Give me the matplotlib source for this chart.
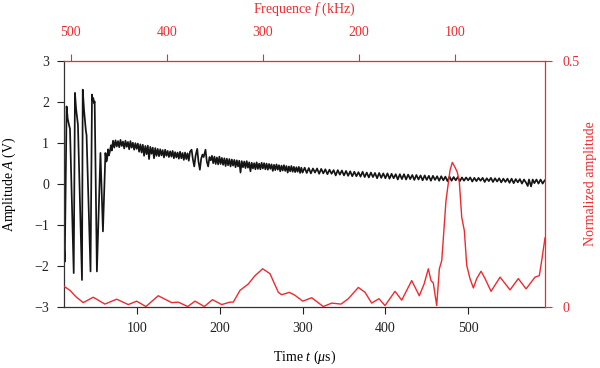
import matplotlib
matplotlib.use("Agg")
import matplotlib.pyplot as plt

plt.rcParams['font.family'] = ['Liberation Serif', 'DejaVu Serif']
plt.rcParams['mathtext.fontset'] = 'custom'
plt.rcParams['mathtext.rm'] = 'Liberation Serif'
plt.rcParams['mathtext.it'] = 'Liberation Serif:italic'

RED = '#ee2a2f'
BLACK = '#151515'

# ---- time signal (time in us, amplitude in V) ----
sig_t = [12.0, 12.7, 14.9, 16.2, 18.1, 19.0, 23.5,
         25.0, 26.3, 27.7, 28.6, 33.5,
         34.4, 36.0, 38.2, 39.0, 43.8,
         45.6, 46.3, 47.2, 48.0, 48.8, 51.5,
         55.8, 58.8, 61.8, 63.0, 63.9, 65.0, 66.0, 67.2, 68.5, 69.5,
         71.0, 72.5, 74.0, 75.5, 77.0, 78.5, 80.0, 81.5, 83.0, 84.5, 86.0, 87.5, 89.0, 90.5,
         92.0, 93.5, 95.0, 96.5, 98.0, 99.5,
         101.0, 102.5, 104.0, 105.5, 107.0, 108.5, 110.0, 111.5, 113.0, 114.5, 116.0, 117.5,
         119.0, 120.5, 122.0,
         123.5, 125.0, 126.5, 128.0, 129.5, 131.0, 132.5, 134.0, 135.5, 137.0, 138.5, 140.0,
         141.5, 143.0, 144.5, 146.0, 147.5, 149.0, 150.5, 152.0, 153.5, 155.0, 156.5, 158.0,
         159.5, 161.0, 162.5, 164.0,
         165.9, 167.5, 169.1, 170.8, 172.7, 174.2, 175.9, 177.5, 179.0, 180.5, 182.7, 184.3,
         185.9, 187.5, 189.0,
         190.5, 192.0, 193.5, 195.0, 196.5, 198.0, 199.5, 201.0, 202.5, 204.0, 205.5, 207.0,
         208.5, 210.0, 211.5, 213.0, 214.5, 216.0, 217.5, 219.0, 220.5, 222.0, 223.5, 225.0,
         226.5, 228.0, 229.5, 231.0, 232.5, 234.0, 235.5, 237.0, 238.5, 240.0, 241.5, 243.0,
         244.5, 246.0, 247.5, 249.0,
         250.5, 252.0, 253.5, 255.0, 256.5, 258.0, 259.5, 261.0, 262.5, 264.0, 265.5, 267.0,
         268.5, 270.0, 271.5, 273.0, 274.5, 276.0, 277.5, 279.0, 280.5, 282.0, 283.5, 285.0,
         286.5, 288.0, 289.5, 291.0, 292.5, 294.0, 295.5, 297.0, 298.5,
         300.0, 302.5, 305.0, 307.5, 310.0, 312.5, 315.0, 317.5, 320.0, 322.5, 325.0, 327.5,
         330.0, 332.5, 335.0, 337.5, 340.0, 342.5, 345.0, 347.5, 350.0, 352.5, 355.0, 357.5,
         360.0, 362.5, 365.0, 367.5, 370.0, 372.5, 375.0, 377.5, 380.0, 382.5, 385.0, 387.5,
         390.0, 392.5, 395.0, 397.5, 400.0, 402.5, 405.0, 407.5, 410.0, 412.5, 415.0, 417.5,
         420.0, 422.5, 425.0, 427.5, 430.0, 432.5, 435.0, 437.5, 440.0, 442.5, 445.0, 447.5,
         450.0, 452.5, 455.0, 457.5, 460.0, 462.5, 465.0, 467.5, 470.0, 472.5, 475.0, 477.5,
         480.0, 482.5, 485.0, 487.5, 490.0, 492.5, 495.0, 497.5, 500.0, 502.5, 505.0, 507.5,
         510.0, 512.5, 515.0, 517.5, 520.0, 522.5, 525.0, 527.5, 530.0, 532.5, 535.0, 537.5,
         540.0, 542.5, 545.0, 547.5, 550.0, 552.5, 555.0, 557.5, 560.0, 562.5, 565.0, 567.5,
         570.0, 572.0, 573.5, 576.0, 578.0, 580.0, 582.5, 585.0, 587.5, 590.0, 592.5]
sig_a = [-1.6, -1.9, 1.90, 1.6, 1.42, 1.35, -2.18,
         2.23, 1.85, 1.6, 1.45, -2.35,
         2.31, 1.8, 1.3, 1.2, -2.14,
         2.19, 2.05, 2.1, 1.98, 2.02, -2.14,
         0.76, -1.16, 0.76, 0.55, 0.62, 0.85, 0.70, 0.80, 0.95, 0.82,
         1.06, 0.89, 1.07, 0.92, 1.05, 0.90, 1.08, 0.93, 1.04, 0.87, 1.06, 0.91, 1.03, 0.85,
         1.05, 0.89, 1.01, 0.84, 1.00, 0.86,
         0.99, 0.79, 0.97, 0.77, 0.96, 0.69, 0.93, 0.73, 0.94, 0.61, 0.91, 0.74,
         0.89, 0.63, 0.88,
         0.69, 0.86, 0.68, 0.85, 0.70, 0.83, 0.65, 0.84, 0.69, 0.81, 0.66, 0.80,
         0.67, 0.81, 0.63, 0.78, 0.65, 0.77, 0.62, 0.79, 0.63, 0.76, 0.59, 0.77,
         0.61, 0.75, 0.57, 0.79,
         0.84, 0.60, 0.43, 0.70, 0.86, 0.55, 0.35, 0.62, 0.72, 0.66, 0.84, 0.55,
         0.43, 0.66, 0.58,
         0.69, 0.51, 0.67, 0.49, 0.65, 0.48, 0.67, 0.49, 0.64, 0.47, 0.63, 0.44,
         0.62, 0.46, 0.61, 0.43, 0.60, 0.45, 0.59, 0.41, 0.58, 0.43, 0.57, 0.28,
         0.56, 0.41, 0.55, 0.39, 0.56, 0.40, 0.53, 0.31, 0.52, 0.38, 0.51, 0.36,
         0.53, 0.37, 0.50, 0.36,
         0.52, 0.38, 0.51, 0.36, 0.50, 0.35, 0.49, 0.37, 0.48, 0.32, 0.47, 0.34,
         0.48, 0.35, 0.46, 0.31, 0.45, 0.33, 0.46, 0.32, 0.44, 0.28, 0.43, 0.31,
         0.44, 0.30, 0.42, 0.29, 0.41, 0.30, 0.42, 0.27, 0.40,
         0.28, 0.40, 0.27, 0.39, 0.26, 0.38, 0.28, 0.38, 0.25, 0.37, 0.26, 0.36,
         0.24, 0.35, 0.25, 0.34, 0.21, 0.34, 0.23, 0.33, 0.21, 0.32, 0.20, 0.31,
         0.19, 0.30, 0.19, 0.29, 0.18, 0.30, 0.17, 0.28, 0.16, 0.28, 0.17, 0.27,
         0.14, 0.27, 0.15, 0.26, 0.14, 0.26, 0.13, 0.25, 0.14, 0.24, 0.11, 0.24,
         0.12, 0.24, 0.11, 0.23, 0.12, 0.22, 0.10, 0.22, 0.11, 0.21, 0.09, 0.21,
         0.10, 0.20, 0.08, 0.20, 0.10, 0.19, 0.08, 0.19, 0.09, 0.18, 0.07, 0.18,
         0.08, 0.17, 0.09, 0.17, 0.07, 0.16, 0.08, 0.16, 0.09, 0.16, 0.06, 0.15,
         0.07, 0.15, 0.08, 0.15, 0.05, 0.14, 0.07, 0.15, 0.05, 0.14, 0.06, 0.14,
         0.04, 0.13, 0.05, 0.13, 0.03, 0.13, 0.02, 0.12, 0.04, 0.12, 0.01, 0.11,
         0.03, -0.05, 0.11, -0.06, 0.11, 0.02, 0.11, 0.01, 0.11, 0.01, 0.09]

# ---- spectrum (frequency in kHz, normalized amplitude) ----
spec_f = [506.7, 500.7, 494.5, 486.9, 476.5, 464.3, 452.1, 440.0, 431.3, 421.6,
          408.8, 394.8, 387.9, 378.1, 370.5, 360.8, 352.3, 342.7, 334.1, 330.6,
          323.6, 315.0, 308.0, 300.0, 292.4, 283.7, 280.2, 272.3, 266.4, 258.3,
          249.0, 236.9, 228.1, 218.4, 210.8, 200.4, 193.4, 186.5, 178.9, 172.6,
          162.2, 155.2, 144.8, 136.9, 131.9, 127.5, 124.7, 122.3, 118.8, 116.0,
          113.5, 109.1, 104.9, 102.5, 99.7, 97.3, 95.2, 92.7, 90.0, 87.5,
          84.1, 80.6, 77.1, 72.6, 68.4, 62.2, 52.8, 42.4, 33.8, 25.7,
          16.4, 11.9, 9.4, 6.0]
spec_a = [0.041, 0.033, 0.020, 0.008, 0.019, 0.005, 0.015, 0.004, 0.011, 0.000,
          0.022, 0.008, 0.009, 0.000, 0.011, 0.000, 0.014, 0.004, 0.009, 0.009,
          0.033, 0.046, 0.063, 0.077, 0.067, 0.029, 0.024, 0.029, 0.023, 0.011,
          0.018, 0.000, 0.007, 0.005, 0.016, 0.039, 0.029, 0.007, 0.016, 0.002,
          0.031, 0.013, 0.053, 0.022, 0.046, 0.077, 0.053, 0.048, 0.002, 0.077,
          0.094, 0.216, 0.278, 0.294, 0.284, 0.274, 0.254, 0.182, 0.155, 0.084,
          0.057, 0.038, 0.057, 0.072, 0.057, 0.031, 0.060, 0.034, 0.057, 0.036,
          0.060, 0.063, 0.094, 0.140]

time_ticks = [100, 200, 300, 400, 500]
amp_ticks = [-3, -2, -1, 0, 1, 2, 3]
freq_ticks = [500, 400, 300, 200, 100]
norm_ticks = [0, 0.5]

fig = plt.figure(figsize=(6.0, 3.68), dpi=100)
ax = fig.add_axes([0.107, 0.167, 0.801, 0.666])
ax.plot(sig_t, sig_a, color=BLACK, lw=1.25)
ax.set_xlim(12, 592.6)
ax.set_ylim(-3, 3)
ax.set_xticks(time_ticks)
ax.set_yticks(amp_ticks)
ax.tick_params(direction='out', length=5, width=0.8, labelsize=10, pad=6, colors='#222222')
for s in ['top', 'right']:
    ax.spines[s].set_visible(False)
for s in ['left', 'bottom']:
    ax.spines[s].set_color('#333333')
    ax.spines[s].set_linewidth(0.9)
ax.set_xlabel(r'Time $t$ ($\mu$s)', fontsize=10)
ax.set_ylabel(r'Amplitude $A$ (V)', fontsize=10)
ax.xaxis.set_label_coords(0.5, -0.172)
ax.yaxis.set_label_coords(-0.097, 0.5)

ax2 = ax.twinx()
ax2.set_ylim(0, 0.5)
ax2.set_yticks(norm_ticks)
ax2.set_yticklabels(['0', '0.5'])
for s in ['top', 'left', 'bottom']:
    ax2.spines[s].set_visible(False)
ax2.spines['right'].set_color(RED)
ax2.spines['right'].set_linewidth(0.9)
ax2.tick_params(axis='y', direction='out', length=5, width=0.8, labelsize=10, pad=8, colors=RED)
ax2.set_ylabel('Normalized amplitude', fontsize=10, color=RED)
ax2.yaxis.set_label_coords(1.082, 0.5)

ax3 = ax2.twiny()
ax3.plot(spec_f, spec_a, color=RED, lw=1.0)
ax3.set_xlim(506.7, 6.2)
ax3.set_xticks(freq_ticks)
for s in ['right', 'left', 'bottom']:
    ax3.spines[s].set_visible(False)
ax3.spines['top'].set_color(RED)
ax3.spines['top'].set_linewidth(0.9)
ax3.tick_params(axis='x', direction='out', length=5, width=0.8, labelsize=10, pad=11, colors=RED)
ax3.set_xlabel(r'Frequence $f$ (kHz)', fontsize=10, color=RED)
ax3.xaxis.set_label_coords(0.5, 1.198)

fig.savefig('out.png', dpi=100)
